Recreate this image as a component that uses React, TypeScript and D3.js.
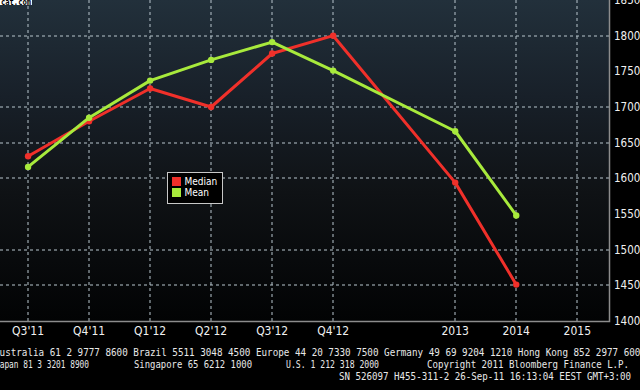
import React from 'react';
import * as d3 from 'd3';

// quarters first, then yearly estimates after a one-slot gap
const categories = ["Q3'11", "Q4'11", "Q1'12", "Q2'12", "Q3'12", "Q4'12", '2013', '2014', '2015'];
const slots = [0, 1, 2, 3, 4, 5, 7, 8, 9];
const median = [1631, 1680, 1726, 1700, 1775, 1800, 1594, 1451, null];
const mean = [1616, 1685, 1737, 1766, 1791, 1751, 1666, 1548, null];
const yTicks = [1400, 1450, 1500, 1550, 1600, 1650, 1700, 1750, 1800, 1850];
const yGrid = [1450, 1500, 1600, 1650, 1700, 1800];
const seriesNames = ['Median', 'Mean'];

const footer1 = 'Australia 61 2 9777 8600 Brazil 5511 3048 4500 Europe 44 20 7330 7500 Germany 49 69 9204 1210 Hong Kong 852 2977 6000';
const footer2 = ['Japan 81 3 3201 8900', 'Singapore 65 6212 1000', 'U.S. 1 212 318 2000', 'Copyright 2011 Bloomberg Finance L.P.'];
const footer3 = 'SN 526097 H455-311-2 26-Sep-11 16:13:04 EEST GMT+3:00';

export default function App() {
    const width = 640,
        height = 390,
        plotRight = 609,
        plotBottom = 321;

    const x = d3.scaleLinear().domain([-0.46, 9.52]).range([0, plotRight]);
    const y = d3.scaleLinear().domain([1400, 1850]).range([plotBottom, 0]);

    const axisFont = "'Liberation Sans Narrow', 'DejaVu Sans Condensed', sans-serif";
    const monoFont = "'DejaVu Sans Mono', monospace";
    const gridColor = '#b0bdc6';

    const series = [
        { name: seriesNames[0], values: median, color: '#f0302a' },
        { name: seriesNames[1], values: mean, color: '#a8ea3c' },
    ];

    const lineGen = (vals: (number | null)[]) => {
        const idx = vals.map((v, i) => i).filter(i => vals[i] !== null);
        return d3.line<number>().x(i => x(slots[i])).y(i => y(vals[i] as number))(idx) || '';
    };

    // footer line 2 pieces: [x, width]
    const f2 = [[-5, 94], [134, 118], [286, 93], [427, 202]];

    return (
        <svg width={width} height={height} style={{ position: 'fixed', left: 0, top: 0, display: 'block' }}>
            <defs>
                <linearGradient id="bg" x1="0" y1="0" x2="0" y2="1">
                    <stop offset="0%" stopColor="#22303b" />
                    <stop offset="30%" stopColor="#182029" />
                    <stop offset="60%" stopColor="#0f1215" />
                    <stop offset="100%" stopColor="#020304" />
                </linearGradient>
            </defs>
            <rect width={width} height={height} fill="#000" />
            <rect x={0} y={0} width={plotRight} height={plotBottom} fill="url(#bg)" />

            {/* dashed grid */}
            <g stroke={gridColor} strokeWidth={1.5} strokeDasharray="3 3" fill="none" strokeOpacity={0.7}>
                {yGrid.map(v => (
                    <line key={'h' + v} x1={0} x2={plotRight} y1={Math.round(y(v))} y2={Math.round(y(v))} />
                ))}
                {slots.map(v => (
                    <line key={'v' + v} x1={Math.round(x(v))} x2={Math.round(x(v))} y1={0} y2={plotBottom} />
                ))}
            </g>

            {/* plot frame */}
            <path d={`M${plotRight + 0.5},0 V${plotBottom + 0.5} H0`} fill="none" stroke="#8c8c8c" strokeWidth={1.5} />

            {/* right axis */}
            {yTicks.map(v => (
                <text key={v} x={plotRight + 5} y={y(v)} dy="0.35em" fill="#f0f0f0"
                    style={{ fontFamily: axisFont, fontSize: '11.5px' }}>{d3.format('d')(v)}</text>
            ))}

            {/* bottom axis */}
            {slots.map((s, i) => (
                <text key={categories[i]} x={x(s)} y={plotBottom + 5} dy="0.71em" textAnchor="middle" fill="#f0f0f0"
                    style={{ fontFamily: axisFont, fontSize: '12px' }}>{categories[i]}</text>
            ))}

            {/* series */}
            {series.map(s => (
                <g key={s.name}>
                    <path d={lineGen(s.values)} fill="none" stroke={s.color} strokeWidth={3} strokeLinejoin="round" />
                    {s.values.map((v, i) => v === null ? null : (
                        <circle key={i} cx={x(slots[i])} cy={y(v)} r={3.2} fill={s.color} />
                    ))}
                </g>
            ))}

            {/* legend */}
            <g transform="translate(167.5,172.5)">
                <rect width={55} height={31} fill="#000" stroke="#c8c8c8" strokeWidth={1} />
                {series.map((s, i) => (
                    <g key={s.name}>
                        <rect x={4.5} y={4.5 + i * 11} width={9} height={9} fill={s.color} />
                        <text x={17} y={12.5 + i * 11} fill="#fff" style={{ fontFamily: axisFont, fontSize: '10px' }}>{s.name}</text>
                    </g>
                ))}
            </g>

            {/* watermark remnant */}
            <rect x={0} y={0} width={32} height={5} fill="#fff" />
            <text x={1} y={5} textLength={30} lengthAdjust="spacingAndGlyphs" fill="#000"
                style={{ fontFamily: monoFont, fontSize: '8px', fontWeight: 'bold' }}>cat.com</text>

            {/* footer */}
            <text x={-6} y={356} textLength={652} lengthAdjust="spacingAndGlyphs" fill="#e8e8e8"
                style={{ fontFamily: monoFont, fontSize: '10px' }}>{footer1}</text>
            {footer2.map((t, i) => (
                <text key={t} x={f2[i][0]} y={368} textLength={f2[i][1]} lengthAdjust="spacingAndGlyphs" fill="#e8e8e8"
                    style={{ fontFamily: monoFont, fontSize: '10px' }}>{t}</text>
            ))}
            <text x={339} y={380} textLength={292} lengthAdjust="spacingAndGlyphs" fill="#e8e8e8"
                style={{ fontFamily: monoFont, fontSize: '10px' }}>{footer3}</text>
        </svg>
    );
}
